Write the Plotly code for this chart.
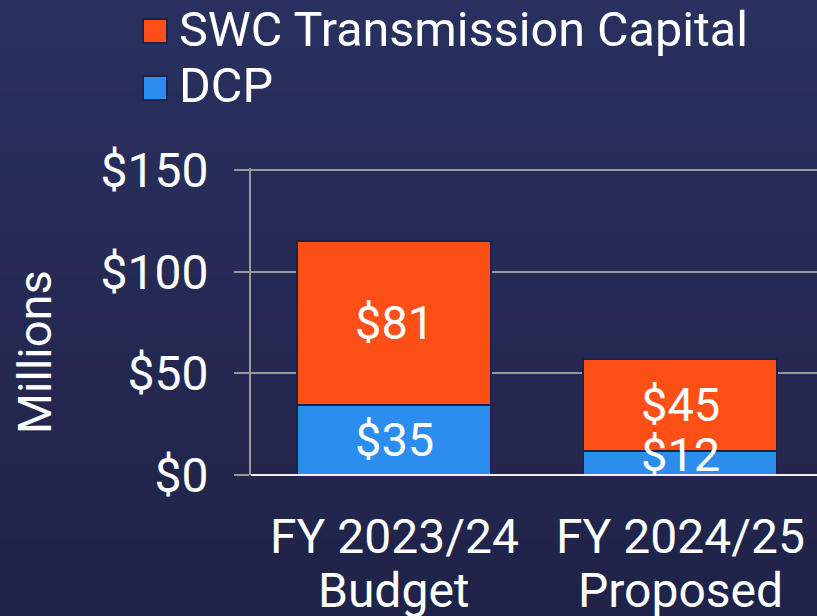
import plotly.graph_objects as go

# ---- data ----
categories_line1 = ["FY 2023/24", "FY 2024/25"]
categories_line2 = ["Budget", "Proposed"]
series_names = ["DCP", "SWC Transmission Capital"]
dcp_values = [34.6, 12.0]
swc_values = [80.6, 44.9]
y_tick_values = [0, 50, 100, 150]
y_tick_labels = ["$0", "$50", "$100", "$150"]
y_title = "Millions"

# ---- styles ----
ORANGE = "#FE4F17"
BLUE = "#2B8DEE"
EDGE = "#1e2246"
FONT = "Roboto"
W, H = 817, 616
ML, MR, MT, MB = 251, 0, 168, 141
PW, PH = W - ML - MR, H - MT - MB
Y_MAX = 151

def py(px_from_top):
    """pixel row (from top of figure) -> paper y"""
    return (H - MB - px_from_top) / PH

def px(px_from_left):
    return (px_from_left - ML) / PW

xs = [0, 1]

fig = go.Figure()
for vals, name, color in [(dcp_values, series_names[0], BLUE), (swc_values, series_names[1], ORANGE)]:
    fig.add_trace(go.Bar(
        x=xs, y=vals, name=name,
        marker=dict(color=color, line=dict(color=EDGE, width=2)),
        width=0.6775, showlegend=False, hoverinfo="name+y"))

shapes = []
annotations = []

# background gradient
n = 40
c0 = (42, 48, 95)
c1 = (32, 35, 72)
for i in range(n):
    t = i / (n - 1)
    col = tuple(int(round(c0[k] + (c1[k] - c0[k]) * t)) for k in range(3))
    top_px = i * H / n
    bot_px = (i + 1) * H / n + 1
    shapes.append(dict(type="rect", xref="paper", yref="paper", layer="below",
                       x0=px(0), x1=px(W), y0=py(bot_px), y1=py(top_px),
                       fillcolor="rgb(%d,%d,%d)" % col, line=dict(width=0)))

# white baseline drawn over the bars' bottom edge
shapes.append(dict(type="line", xref="paper", yref="y", layer="above",
                   x0=0, x1=1, y0=y_tick_values[0], y1=y_tick_values[0],
                   line=dict(color="#f2f2f2", width=2)))

# value labels inside segments (kept above the axis when a segment is short)
min_center = 10
for xi in range(len(xs)):
    base = 0
    for vals in (dcp_values, swc_values):
        v = vals[xi]
        yc = max(base + v / 2, min_center)
        annotations.append(dict(xref="x", yref="y", x=xs[xi], y=yc, text="$%.0f" % v,
                                showarrow=False, xanchor="center", yanchor="middle",
                                font=dict(color="white", size=47, family=FONT)))
        base += v

# legend (manual, large squares)
legend_items = [(series_names[1], ORANGE, 31, 29), (series_names[0], BLUE, 88, 85)]
for name, color, yc, ty in legend_items:
    shapes.append(dict(type="rect", xref="paper", yref="paper", layer="above",
                       x0=px(143), x1=px(167), y0=py(yc + 12), y1=py(yc - 12),
                       fillcolor=color, line=dict(color=EDGE, width=2)))
    annotations.append(dict(xref="paper", yref="paper", x=px(177), y=py(ty),
                            text=name, showarrow=False, xanchor="left", yanchor="middle",
                            font=dict(color="white", size=48.5, family=FONT)))

# x category labels (two lines)
for xi, l1, l2 in zip(xs, categories_line1, categories_line2):
    annotations.append(dict(xref="x", yref="paper", x=xi, y=py(536), text=l1,
                            showarrow=False, xanchor="center", yanchor="middle",
                            font=dict(color="white", size=48, family=FONT)))
    annotations.append(dict(xref="x", yref="paper", x=xi, y=py(590), text=l2,
                            showarrow=False, xanchor="center", yanchor="middle",
                            font=dict(color="white", size=48, family=FONT)))

# y title
annotations.append(dict(xref="paper", yref="paper", x=px(34), y=py(352),
                        text=y_title, textangle=-90, showarrow=False,
                        xanchor="center", yanchor="middle",
                        font=dict(color="white", size=47, family=FONT)))

fig.update_layout(
    width=W, height=H,
    margin=dict(l=ML, r=MR, t=MT, b=MB, pad=0),
    barmode="stack",
    paper_bgcolor="#262b57",
    plot_bgcolor="rgba(0,0,0,0)",
    font=dict(family=FONT, color="white", size=46),
    shapes=shapes,
    annotations=annotations,
    showlegend=False,
)
fig.update_xaxes(range=[-0.501, 1.479], showticklabels=False, showgrid=False, zeroline=False,
                 showline=False, ticks="", fixedrange=True)
fig.update_yaxes(range=[0, Y_MAX], tickvals=y_tick_values, ticktext=y_tick_labels,
                 showgrid=True, gridcolor="#9a9a9a", gridwidth=2,
                 zeroline=True, zerolinecolor="#eeeeee", zerolinewidth=2,
                 showline=True, linecolor="#9a9a9a", linewidth=2,
                 ticks="outside", ticklen=15, tickwidth=2, tickcolor="#9a9a9a",
                 ticklabelstandoff=16, fixedrange=True,
                 tickfont=dict(color="white", size=48, family=FONT))

fig.write_html("out.html", config={"displayModeBar": False},
               post_script="document.body.style.margin='0';document.body.style.overflow='hidden';")
